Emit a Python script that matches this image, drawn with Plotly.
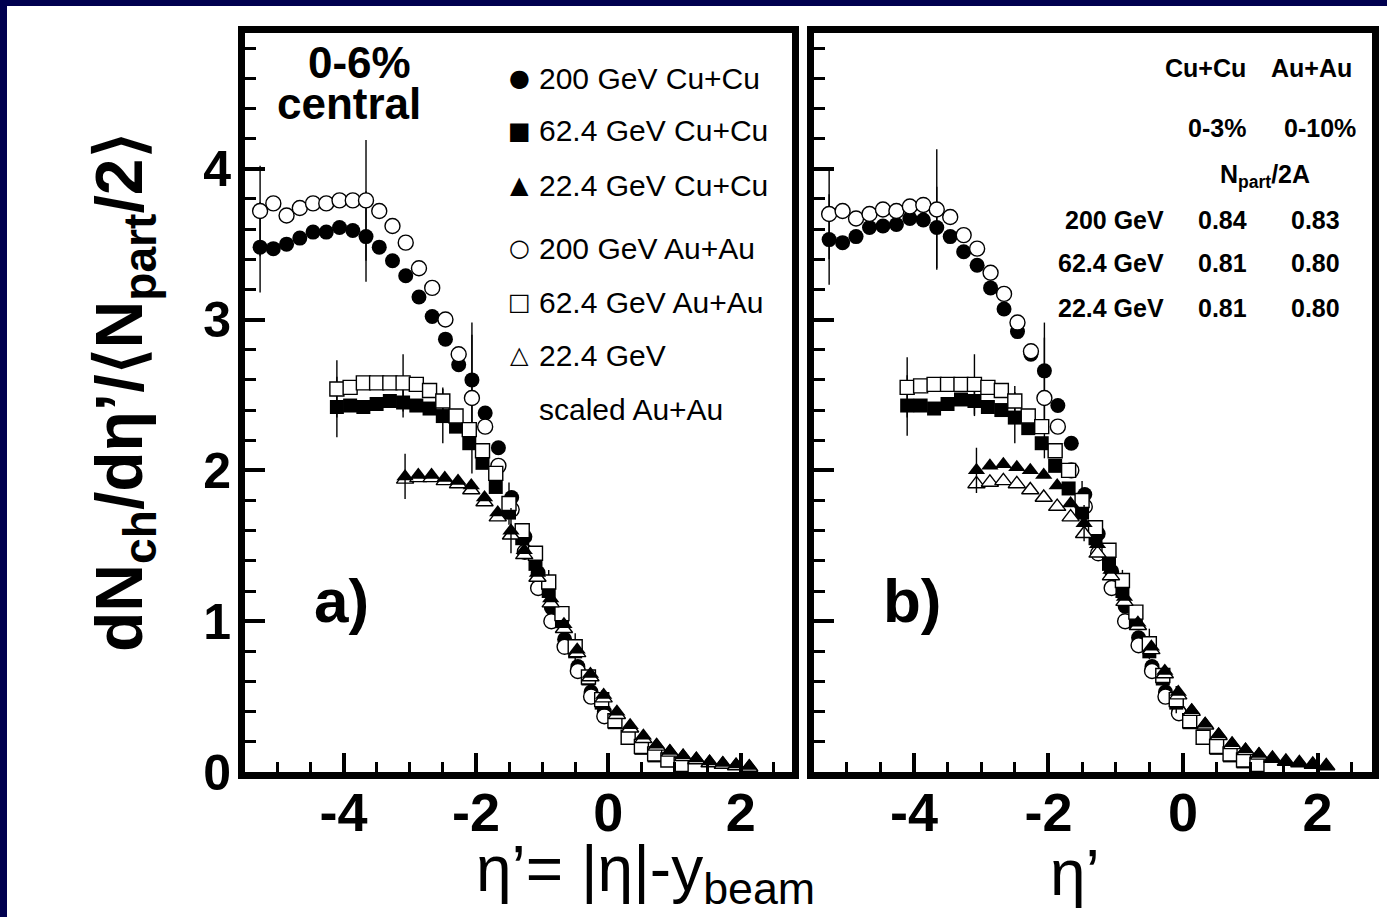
import plotly.graph_objects as go

W, H = 1387, 917

# ---------------- data ----------------
eta_200 = [-5.26, -5.06, -4.86, -4.66, -4.46, -4.26, -4.06, -3.86, -3.66, -3.46, -3.26, -3.06, -2.86, -2.66,
           -2.46, -2.26, -2.06, -1.86, -1.66, -1.46, -1.26, -1.06, -0.86, -0.66, -0.46, -0.26, -0.06]
eta_62 = [-4.10, -3.90, -3.70, -3.50, -3.30, -3.10, -2.90, -2.70, -2.50, -2.30, -2.10, -1.90, -1.70, -1.50,
          -1.30, -1.10, -0.90, -0.70, -0.50, -0.30, -0.10, 0.10, 0.30, 0.50, 0.70, 0.90, 1.10]
eta_22 = [-3.07, -2.87, -2.67, -2.47, -2.27, -2.07, -1.87, -1.67, -1.47, -1.27, -1.07, -0.87, -0.67, -0.47,
          -0.27, -0.07, 0.13, 0.33, 0.53, 0.73, 0.93, 1.13, 1.33, 1.53, 1.73, 1.93, 2.13]

# panel a) 0-6% central
a_cu200 = [3.48, 3.47, 3.50, 3.54, 3.58, 3.58, 3.61, 3.59, 3.55, 3.48, 3.39, 3.29, 3.15, 3.02,
           2.87, 2.70, 2.60, 2.38, 2.15, 1.82, 1.56, 1.32, 1.09, 0.88, 0.70, 0.53, 0.40]
a_au200 = [3.72, 3.77, 3.69, 3.74, 3.77, 3.77, 3.79, 3.79, 3.79, 3.72, 3.62, 3.51, 3.34, 3.21,
           3.00, 2.77, 2.48, 2.29, 2.03, 1.74, 1.46, 1.22, 1.00, 0.83, 0.67, 0.50, 0.37]
a_cu62 = [2.42, 2.43, 2.42, 2.44, 2.46, 2.45, 2.43, 2.41, 2.36, 2.29, 2.18, 2.05, 1.89, 1.72,
          1.55, 1.38, 1.20, 1.00, 0.80, 0.62, 0.46, 0.33, 0.23, 0.16, 0.11, 0.08, 0.05]
a_au62 = [2.54, 2.55, 2.58, 2.58, 2.58, 2.58, 2.57, 2.53, 2.46, 2.36, 2.27, 2.13, 1.98, 1.78,
          1.60, 1.45, 1.26, 1.05, 0.83, 0.63, 0.48, 0.34, 0.23, 0.17, 0.12, 0.08, 0.05]
a_cu22 = [1.96, 1.97, 1.97, 1.95, 1.93, 1.90, 1.82, 1.72, 1.60, 1.47, 1.32, 1.15, 0.98, 0.81,
          0.65, 0.51, 0.40, 0.31, 0.24, 0.18, 0.14, 0.11, 0.09, 0.07, 0.06, 0.05, 0.04]
a_au22 = [1.94, 1.95, 1.95, 1.93, 1.91, 1.87, 1.79, 1.69, 1.57, 1.44, 1.29, 1.12, 0.95, 0.79,
          0.63, 0.49, 0.38, 0.29, 0.22, 0.17, 0.13, 0.10, 0.08, 0.06, 0.05, 0.04, 0.03]

a_cu200_err = [0.30, 0, 0, 0, 0, 0, 0, 0, 0.30, 0, 0, 0, 0, 0, 0, 0, 0.30, 0, 0, 0, 0, 0, 0, 0, 0, 0, 0]
a_au200_err = [0.30, 0, 0, 0, 0, 0, 0, 0, 0.40, 0, 0, 0, 0, 0, 0, 0, 0.50, 0, 0, 0, 0, 0, 0, 0, 0, 0, 0]
a_cu62_err = [0.20, 0, 0, 0, 0, 0.10, 0, 0, 0.18, 0, 0, 0, 0, 0, 0, 0, 0, 0, 0, 0, 0, 0, 0, 0, 0, 0, 0]
a_au62_err = [0.19, 0, 0, 0, 0, 0.19, 0, 0, 0.09, 0, 0, 0, 0, 0.14, 0, 0, 0.08, 0, 0.09, 0, 0.06, 0, 0, 0, 0, 0, 0]
a_cu22_err = [0.15, 0, 0, 0, 0, 0, 0, 0, 0.15, 0, 0, 0, 0, 0, 0, 0, 0, 0, 0, 0, 0, 0, 0, 0, 0, 0, 0]

# panel b) matched Npart/2A
b_cu200 = [3.53, 3.51, 3.55, 3.61, 3.62, 3.63, 3.67, 3.66, 3.61, 3.55, 3.45, 3.36, 3.21, 3.07,
           2.92, 2.77, 2.66, 2.43, 2.18, 1.84, 1.58, 1.33, 1.10, 0.89, 0.70, 0.53, 0.40]
b_au200 = [3.70, 3.72, 3.67, 3.70, 3.73, 3.72, 3.75, 3.76, 3.73, 3.68, 3.56, 3.47, 3.31, 3.17,
           2.98, 2.79, 2.48, 2.29, 2.00, 1.76, 1.45, 1.22, 1.00, 0.84, 0.67, 0.50, 0.39]
b_cu62 = [2.43, 2.43, 2.41, 2.44, 2.47, 2.46, 2.42, 2.40, 2.35, 2.28, 2.18, 2.03, 1.88, 1.72,
          1.55, 1.38, 1.20, 1.00, 0.80, 0.62, 0.46, 0.33, 0.23, 0.16, 0.11, 0.07, 0.05]
b_au62 = [2.55, 2.56, 2.57, 2.57, 2.57, 2.57, 2.55, 2.53, 2.46, 2.36, 2.29, 2.13, 2.00, 1.80,
          1.62, 1.47, 1.27, 1.06, 0.85, 0.64, 0.48, 0.34, 0.23, 0.17, 0.12, 0.08, 0.05]
b_cu22 = [2.00, 2.03, 2.04, 2.02, 2.00, 1.97, 1.90, 1.78, 1.65, 1.51, 1.34, 1.16, 0.99, 0.83,
          0.67, 0.53, 0.41, 0.32, 0.25, 0.19, 0.15, 0.12, 0.09, 0.07, 0.06, 0.05, 0.04]
b_au22 = [1.91, 1.92, 1.93, 1.91, 1.87, 1.82, 1.76, 1.69, 1.58, 1.45, 1.30, 1.13, 0.97, 0.81,
          0.65, 0.51, 0.40, 0.31, 0.24, 0.18, 0.14, 0.11, 0.09, 0.07, 0.06, 0.05, 0.04]

b_cu200_err = [0.30, 0, 0, 0, 0, 0, 0, 0, 0.27, 0, 0, 0, 0, 0, 0, 0, 0.32, 0, 0, 0, 0, 0, 0, 0, 0, 0, 0]
b_au200_err = [0.30, 0, 0, 0, 0, 0, 0, 0, 0.40, 0, 0, 0, 0, 0, 0, 0, 0.40, 0, 0, 0, 0, 0, 0, 0, 0, 0, 0]
b_cu62_err = [0.20, 0, 0, 0, 0, 0.10, 0, 0, 0.17, 0, 0, 0, 0, 0, 0, 0, 0, 0, 0, 0, 0, 0, 0, 0, 0, 0, 0]
b_au62_err = [0.20, 0, 0, 0, 0, 0.20, 0, 0, 0.10, 0, 0, 0, 0, 0.13, 0, 0, 0.07, 0, 0.10, 0, 0.09, 0, 0, 0, 0, 0, 0]
b_cu22_err = [0.15, 0, 0, 0, 0, 0, 0, 0, 0.12, 0, 0, 0, 0, 0, 0, 0, 0, 0, 0, 0, 0, 0, 0, 0, 0, 0, 0]

x_tickvals = [-4, -2, 0, 2]
x_ticktext = ["-4", "-2", "0", "2"]
y_tickvals = [0, 1, 2, 3, 4]
y_ticktext = ["0", "1", "2", "3", "4"]

legend_symbols = ["●", "■", "▲", "○", "□", "△", ""]
legend_labels = ["200 GeV Cu+Cu", "62.4 GeV Cu+Cu", "22.4 GeV Cu+Cu", "200 GeV Au+Au",
                 "62.4 GeV Au+Au", "22.4 GeV", "scaled Au+Au"]

table_rows = ["200 GeV", "62.4 GeV", "22.4 GeV"]
table_cu = ["0.84", "0.81", "0.81"]
table_au = ["0.83", "0.80", "0.80"]

# ---------------- styling ----------------
FONT = "Liberation Sans, Arial, Helvetica, sans-serif"
NAVY = "#00004f"


def px(x):
    return x / W


def py(y):
    return 1 - y / H


fig = go.Figure()


def add(xs, ys, err, xa, ya, symbol, filled, size):
    marker = dict(symbol=symbol, size=size)
    if filled:
        marker.update(color="black", line=dict(width=0))
    else:
        marker.update(color="white", line=dict(width=1.4, color="black"))
    tr = go.Scatter(x=xs, y=ys, mode="markers", marker=marker, xaxis=xa, yaxis=ya,
                    showlegend=False, hoverinfo="skip")
    if err is not None:
        tr.error_y = dict(type="data", array=err, symmetric=True, thickness=1.4,
                          width=0, color="black")
    fig.add_trace(tr)


for xa, ya, d in [("x", "y", dict(cu200=a_cu200, au200=a_au200, cu62=a_cu62, au62=a_au62,
                                  cu22=a_cu22, au22=a_au22, e1=a_cu200_err, e2=a_au200_err,
                                  e3=a_cu62_err, e4=a_au62_err, e5=a_cu22_err)),
                  ("x2", "y2", dict(cu200=b_cu200, au200=b_au200, cu62=b_cu62, au62=b_au62,
                                    cu22=b_cu22, au22=b_au22, e1=b_cu200_err, e2=b_au200_err,
                                    e3=b_cu62_err, e4=b_au62_err, e5=b_cu22_err))]:
    add(eta_200, d["cu200"], d["e1"], xa, ya, "circle", True, 15)
    add(eta_200, d["au200"], d["e2"], xa, ya, "circle", False, 15)
    add(eta_62, d["cu62"], d["e3"], xa, ya, "square", True, 14)
    add(eta_62, d["au62"], d["e4"], xa, ya, "square", False, 14)
    add(eta_22, d["au22"], None, xa, ya, "triangle-up", False, 15)
    add(eta_22, d["cu22"], d["e5"], xa, ya, "triangle-up", True, 15)

common_x = dict(showline=True, linewidth=7, linecolor="black", mirror=True, ticks="inside",
                ticklen=19, tickwidth=4, tickcolor="black", tickvals=x_tickvals,
                ticktext=x_ticktext, showgrid=False, zeroline=False, automargin=False,
                tickfont=dict(family=FONT, size=54, color="black", weight="bold"),
                minor=dict(ticks="inside", tick0=0, dtick=0.5, ticklen=10, tickwidth=3,
                           tickcolor="black", showgrid=False),
                ticklabelstandoff=-13)
common_y = dict(showline=True, linewidth=7, linecolor="black", mirror=True, ticks="inside",
                ticklen=20, tickwidth=4, tickcolor="black", tickvals=y_tickvals,
                ticktext=y_ticktext, showgrid=False, zeroline=False, range=[0, 4.9],
                automargin=False,
                tickfont=dict(family=FONT, size=50, color="black", weight="bold"),
                minor=dict(ticks="inside", tick0=0, dtick=0.2, ticklen=11, tickwidth=3,
                           tickcolor="black", showgrid=False),
                ticklabelstandoff=-3)

yd = [py(772), py(33)]
fig.update_layout(
    width=W, height=H, margin=dict(l=0, r=0, t=0, b=0, pad=0, autoexpand=False),
    paper_bgcolor="white", plot_bgcolor="white", showlegend=False,
    xaxis=dict(common_x, domain=[px(245), px(792)], range=[-5.488, 2.775], anchor="y"),
    yaxis=dict(common_y, domain=yd, anchor="x"),
    xaxis2=dict(common_x, domain=[px(814), px(1372)], range=[-5.485, 2.81], anchor="y2"),
    yaxis2=dict(common_y, domain=yd, anchor="x2", showticklabels=False),
)

# navy frame of the slide
fig.add_shape(type="rect", xref="paper", yref="paper", x0=0, x1=px(7), y0=0, y1=1,
              fillcolor=NAVY, line=dict(width=0), layer="above")
fig.add_shape(type="rect", xref="paper", yref="paper", x0=0, x1=1, y0=py(6), y1=1,
              fillcolor=NAVY, line=dict(width=0), layer="above")

ann = []


def text(x, y, s, size, bold=False, xanchor="center", angle=0, family=FONT):
    ann.append(dict(x=px(x), y=py(y), xref="paper", yref="paper", text=s, showarrow=False,
                    xanchor=xanchor, yanchor="middle", textangle=angle,
                    font=dict(family=family, size=size, color="black",
                              weight="bold" if bold else "normal")))


# axis titles
text(124, 392, "dN<sub>ch</sub>/dη’/⟨N<sub>part</sub>/2⟩", 66, bold=True, angle=-90)
text(645, 873, "η’= |η|-y<sub>beam</sub>", 64)
text(1075, 873, "η’", 64)

# panel a) labels
text(359, 62, "0-6%", 44, bold=True)
text(349, 104, "central", 44, bold=True)
text(341, 600, "a)", 62, bold=True)
text(912, 600, "b)", 62, bold=True)

# legend
rows_y = [78, 131, 185, 248, 302, 355, 409]
for sym, lab, yy in zip(legend_symbols, legend_labels, rows_y):
    if sym:
        text(519, yy, sym, 24, family="DejaVu Sans")
    text(537, yy, lab, 30, xanchor="left")

# table in panel b)
text(1205, 68, "Cu+Cu", 25, bold=True)
text(1311, 68, "Au+Au", 25, bold=True)
text(1217, 128, "0-3%", 25, bold=True)
text(1320, 128, "0-10%", 25, bold=True)
text(1265, 176, "N<sub>part</sub>/2A", 25, bold=True)
for lab, c1, c2, yy in zip(table_rows, table_cu, table_au, [220, 263, 308]):
    text(1166, yy, lab, 25, bold=True, xanchor="right")
    text(1222, yy, c1, 25, bold=True)
    text(1315, yy, c2, 25, bold=True)

fig.update_layout(annotations=ann)

post = "document.body.style.margin='0';"
fig.write_html("out.html", config={"displayModeBar": False}, post_script=post)
